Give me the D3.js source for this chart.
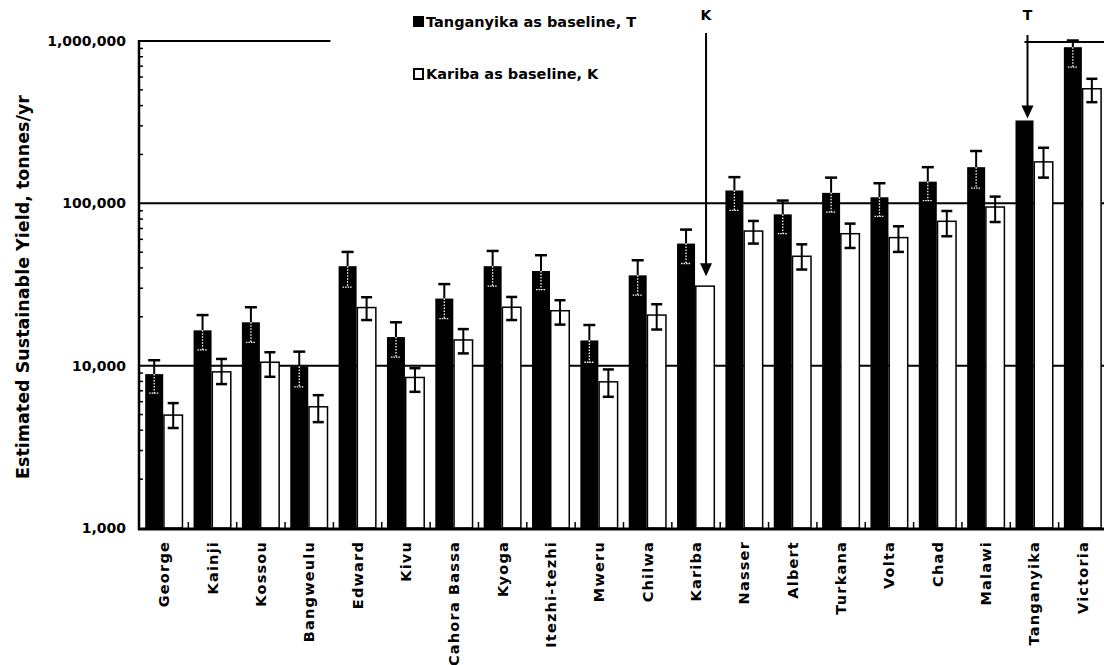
<!DOCTYPE html>
<html>
<head>
<meta charset="utf-8">
<script src="https://cdn.jsdelivr.net/npm/d3@7"></script>
<style>
  body { margin:0; background:#fff; }
  svg text { font-family:"DejaVu Sans", sans-serif; font-weight:bold; fill:#000; }
</style>
</head>
<body>
<div id="chart"></div>
<script>
// lakes, smallest to largest
var lakes = ["George","Kainji","Kossou","Bangweulu","Edward","Kivu","Cahora Bassa","Kyoga","Itezhi-tezhi","Mweru",
             "Chilwa","Kariba","Nasser","Albert","Turkana","Volta","Chad","Malawi","Tanganyika","Victoria"];

// Tanganyika as baseline (T) - tonnes/yr, with error range
var tYield = [8870,16500,18500,9900,41000,15000,25900,41000,38300,14300,36000,56500,120000,85500,116000,109000,136000,167000,324000,916000];
var tHigh  = [10800,20500,22900,12200,50200,18500,31800,50900,47900,17800,44600,68900,145000,104000,144000,133000,167000,210000,null,1007000];
var tLow   = [6770,12500,13900,7400,30500,11300,19500,30900,29400,10500,27200,42600,90500,65100,88400,83200,104000,124000,null,690000];

// Kariba as baseline (K)
var kYield = [4960,9160,10500,5580,22800,8460,14400,22900,21800,7950,20500,30900,67500,47200,65000,61500,77500,94900,180000,508000];
var kHigh  = [5880,11000,12100,6580,26400,9650,16800,26500,25300,9480,23900,null,77900,55900,75000,72200,89700,110000,220000,585000];
var kLow   = [4130,7700,8540,4490,19100,6900,11900,19100,17900,6430,16700,null,56500,39100,53100,50200,62700,76700,144000,420000];

var gridValues = [10000,100000,1000000];
var tickValues = [1000,10000,100000,1000000];
var legendLabels = ["Tanganyika as baseline, T","Kariba as baseline, K"];

var width = 1104, height = 665;
var svg = d3.select("#chart").append("svg")
  .attr("width", width)
  .attr("height", height);

var x = d3.scaleBand().domain(lakes).range([140, 140+20*48.35]);
var y = d3.scaleLog().domain([1000,1000000]).range([528,41]);

var barW = 18, whiteW = 20, pad = 5.2;
var fmt = d3.format(",");

// grid lines (the top one is only partly drawn in the original)
gridValues.forEach(function(v){
  if(v==1000000){
    svg.append("line").attr("x1",139).attr("x2",x("Edward")-3)
      .attr("y1",y(v)).attr("y2",y(v)).attr("stroke","#000").attr("stroke-width",2);
    svg.append("line").attr("x1",x("Tanganyika")+pad+barW/2).attr("x2",width)
      .attr("y1",y(v)+1).attr("y2",y(v)+1).attr("stroke","#000").attr("stroke-width",2);
  } else {
    svg.append("line").attr("x1",139).attr("x2",width)
      .attr("y1",y(v)).attr("y2",y(v)).attr("stroke","#000").attr("stroke-width",2);
  }
});

// bars
lakes.forEach(function(d,i){
  var bx = x(d)+pad;
  svg.append("rect")
    .attr("x",bx).attr("y",y(tYield[i]))
    .attr("width",barW).attr("height",y(1000)-y(tYield[i]))
    .attr("fill","#000");
  svg.append("rect")
    .attr("x",bx+barW+0.75).attr("y",y(kYield[i]))
    .attr("width",whiteW-1.5).attr("height",y(1000)-y(kYield[i]))
    .attr("fill","#fff").attr("stroke","#000").attr("stroke-width",1.5);
});

// error bars
lakes.forEach(function(d,i){
  var cx = x(d)+pad+barW/2;
  if(tHigh[i]!=null){
    svg.append("line").attr("x1",cx).attr("x2",cx)
      .attr("y1",y(tHigh[i])).attr("y2",y(tYield[i]))
      .attr("stroke","#000").attr("stroke-width",2);
    svg.append("line").attr("x1",cx-6).attr("x2",cx+6)
      .attr("y1",y(tHigh[i])).attr("y2",y(tHigh[i]))
      .attr("stroke","#000").attr("stroke-width",2.5);
    svg.append("line").attr("x1",cx).attr("x2",cx)
      .attr("y1",y(tYield[i])).attr("y2",y(tLow[i]))
      .attr("stroke","#fff").attr("stroke-width",1.3).attr("stroke-dasharray","1.5,1.5");
    svg.append("line").attr("x1",cx-5).attr("x2",cx+5)
      .attr("y1",y(tLow[i])).attr("y2",y(tLow[i]))
      .attr("stroke","#fff").attr("stroke-width",1.3).attr("stroke-dasharray","1.5,1");
  }
  var wx = x(d)+pad+barW+whiteW/2;
  if(kHigh[i]!=null){
    svg.append("line").attr("x1",wx).attr("x2",wx)
      .attr("y1",y(kHigh[i])).attr("y2",y(kLow[i]))
      .attr("stroke","#000").attr("stroke-width",2);
    [kHigh[i],kLow[i]].forEach(function(v){
      svg.append("line").attr("x1",wx-5.5).attr("x2",wx+5.5)
        .attr("y1",y(v)).attr("y2",y(v))
        .attr("stroke","#000").attr("stroke-width",2.5);
    });
  }
});

// axes
var yAxis = d3.axisLeft(y).tickValues(tickValues).tickFormat(fmt).tickSize(0).tickPadding(13);
var gy = svg.append("g").attr("transform","translate(139,0)").call(yAxis);
gy.select(".domain").remove();
gy.selectAll("text").style("font-size","14px");

// minor ticks on y axis, pointing inward
var minor = [];
[1000,10000,100000].forEach(function(dec){
  for(var k=2;k<=9;k++){ minor.push(dec*k); }
});
minor.forEach(function(v){
  svg.append("line").attr("x1",139).attr("x2",143)
    .attr("y1",y(v)).attr("y2",y(v)).attr("stroke","#000").attr("stroke-width",1.5);
});

svg.append("line").attr("x1",139).attr("x2",139).attr("y1",40).attr("y2",530)
  .attr("stroke","#000").attr("stroke-width",2.5);
svg.append("line").attr("x1",138).attr("x2",width).attr("y1",529).attr("y2",529)
  .attr("stroke","#000").attr("stroke-width",3);

// small ticks between lake groups
lakes.forEach(function(d,i){
  if(i==0) return;
  svg.append("line").attr("x1",x(d)).attr("x2",x(d))
    .attr("y1",529).attr("y2",522).attr("stroke","#000").attr("stroke-width",1.5);
});

// lake names
lakes.forEach(function(d){
  var cx = x(d)+x.bandwidth()/2;
  svg.append("text")
    .attr("transform","translate("+(cx+5)+",541) rotate(-90)")
    .attr("text-anchor","end")
    .style("font-size","14.5px")
    .style("letter-spacing","1.2px")
    .text(d);
});

// y title
svg.append("text")
  .attr("transform","translate(29,287) rotate(-90)")
  .attr("text-anchor","middle")
  .style("font-size","17.5px")
  .text("Estimated Sustainable Yield, tonnes/yr");

// legend
svg.append("rect").attr("x",413).attr("y",16).attr("width",11).attr("height",11).attr("fill","#000");
svg.append("text").attr("x",426).attr("y",27).style("font-size","14.5px").text(legendLabels[0]);
svg.append("rect").attr("x",414).attr("y",69).attr("width",9).attr("height",10)
  .attr("fill","#fff").attr("stroke","#000").attr("stroke-width",2);
svg.append("text").attr("x",426).attr("y",79).style("font-size","14.5px").text(legendLabels[1]);

// baseline arrows
function arrow(cx, top, tip, label){
  svg.append("line").attr("x1",cx).attr("x2",cx).attr("y1",top).attr("y2",tip-10)
    .attr("stroke","#000").attr("stroke-width",2);
  svg.append("path")
    .attr("d","M"+(cx-6)+","+(tip-13)+"L"+(cx+6)+","+(tip-13)+"L"+cx+","+tip+"Z")
    .attr("fill","#000");
  svg.append("text").attr("x",cx).attr("y",20).attr("text-anchor","middle")
    .style("font-size","14px").text(label);
}
arrow(x("Kariba")+pad+barW+whiteW/2+1, 33, y(kYield[11])-10, "K");
arrow(x("Tanganyika")+pad+barW/2+3, 35, y(tYield[18])-2, "T");
</script>
</body>
</html>
